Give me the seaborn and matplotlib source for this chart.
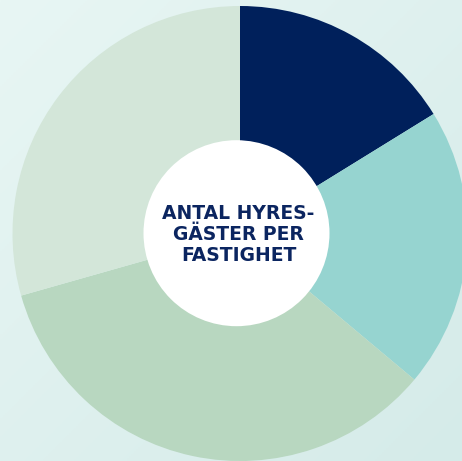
import numpy as np
import matplotlib
matplotlib.use("Agg")
import matplotlib.pyplot as plt
import seaborn as sns
from matplotlib.colors import LinearSegmentedColormap
from matplotlib.patches import Circle

# Share of properties by number of tenants
categories = ["Grupp 1", "Grupp 2", "Grupp 3", "Grupp 4"]
shares = [16.2, 19.9, 34.5, 29.4]
title_lines = ["ANTAL HYRES-", "GÄSTER PER", "FASTIGHET"]

sns.set_theme(style="white")
plt.rcParams["font.family"] = ["DejaVu Sans"]

palette = sns.color_palette(["#00205b", "#96d4d0", "#b8d7c0", "#d3e6d9"])
navy = "#0b2560"

W, H = 462, 461
fig = plt.figure(figsize=(W / 100, H / 100), dpi=100)

# soft diagonal background gradient
bg = fig.add_axes([0, 0, 1, 1])
gx, gy = np.meshgrid(np.linspace(0, 1, 200), np.linspace(0, 1, 200))
grad = (gx + gy) / 2
cmap = LinearSegmentedColormap.from_list("bg", ["#e8f6f4", "#d5ebe9"])
bg.imshow(grad, cmap=cmap, extent=[0, 1, 0, 1], origin="upper", aspect="auto")
bg.set_axis_off()

ax = fig.add_axes([0, 0, 1, 1])
ax.set_xlim(0, W)
ax.set_ylim(H, 0)
ax.set_aspect("equal")
ax.set_axis_off()
ax.patch.set_alpha(0)

cx, cy, r = 240, 233.5, 227.5
# pie drawn in a y-down frame: flip the direction so it runs clockwise from the top
ax.pie(shares, colors=palette, startangle=-90, counterclock=True,
       center=(cx, cy), radius=r, frame=True,
       wedgeprops=dict(linewidth=0))
ax.set_xlim(0, W)
ax.set_ylim(H, 0)
ax.set_axis_off()

ax.add_patch(Circle((236.5, 233.2), 93, facecolor="white", edgecolor="none", zorder=5))

ys = [213.5, 234.5, 255]
for line, y in zip(title_lines, ys):
    ax.text(238.5, y, line, ha="center", va="center", fontsize=13.5,
            fontweight="bold", color=navy, zorder=6)

fig.savefig("out.png", dpi=100)
